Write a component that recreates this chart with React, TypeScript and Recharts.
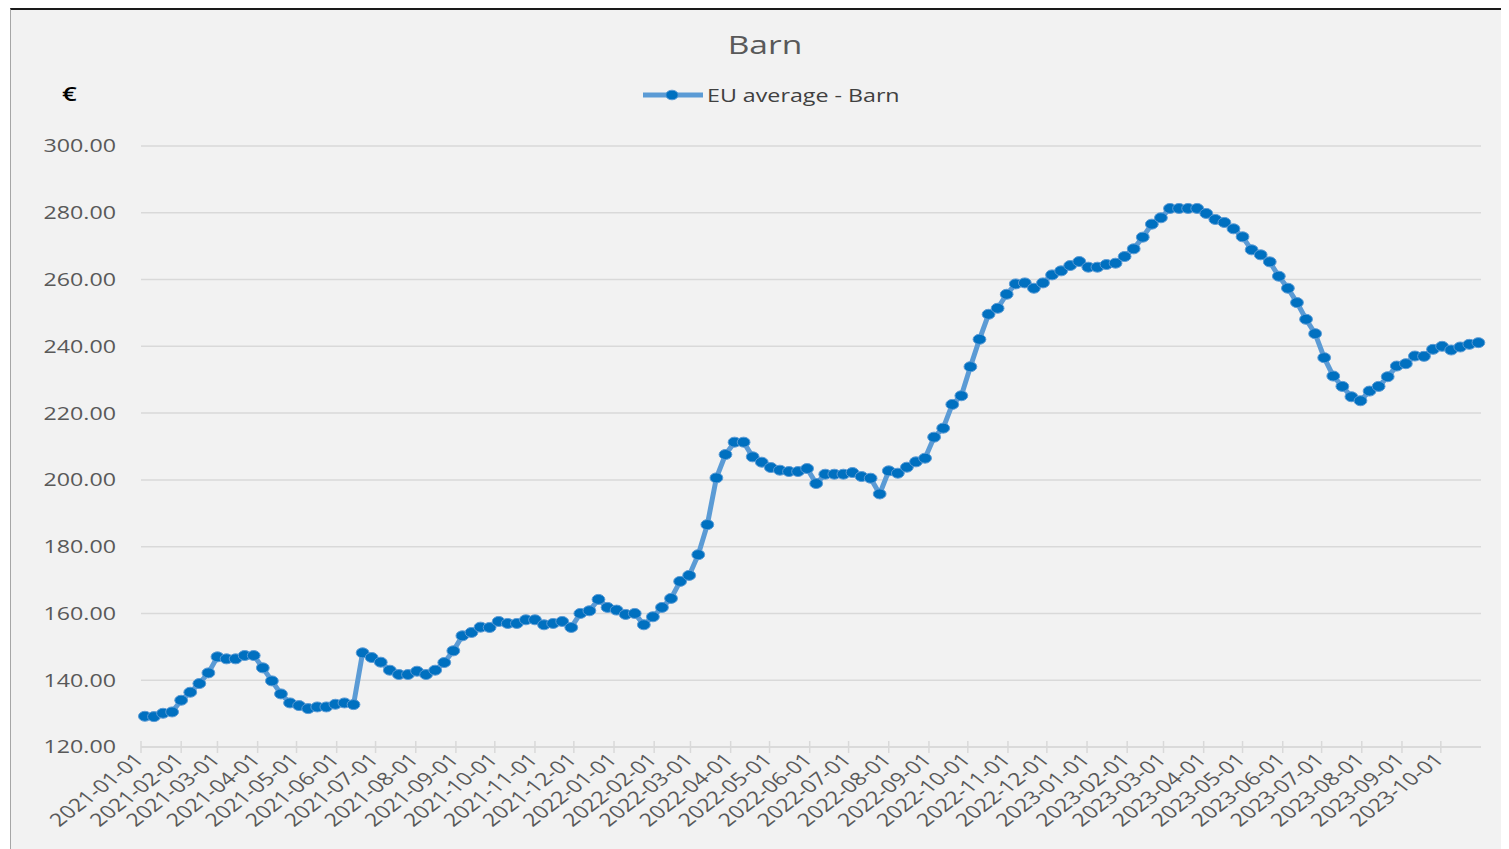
import { LineChart, Line, XAxis, YAxis, CartesianGrid } from 'recharts';

// weekly EU average price, one point per week (Mondays)
const FIRST_WEEK = '2021-01-04';
const values2021 = [
    129.2, 129.1, 130.1, 130.5, 134.0, 136.4, 139.0, 142.2, 147.0, 146.4, 146.4, 147.4, 147.4,
    143.7, 139.8, 135.9, 133.2, 132.4, 131.5, 132.0, 132.0, 132.8, 133.2, 132.7, 148.2, 146.8,
    145.4, 143.0, 141.7, 141.7, 142.7, 141.7, 143.0, 145.3, 148.8, 153.3, 154.3, 155.9, 155.8,
    157.6, 157.0, 157.0, 158.1, 158.1, 156.6, 157.0, 157.6, 155.8, 160.0, 160.8, 164.2, 161.8,
];
const values2022 = [
    161.0, 159.7, 160.0, 156.6, 159.0, 161.8, 164.5, 169.6, 171.4, 177.6, 186.6, 200.6, 207.6,
    211.3, 211.3, 206.9, 205.3, 203.7, 202.9, 202.5, 202.5, 203.4, 198.9, 201.7, 201.7, 201.7,
    202.2, 201.0, 200.5, 195.8, 202.7, 202.0, 203.8, 205.4, 206.5, 212.8, 215.5, 222.6, 225.2,
    233.9, 242.1, 249.6, 251.4, 255.6, 258.7, 259.0, 257.4, 259.0, 261.4, 262.6, 264.2, 265.4,
];
const values2023 = [
    263.7, 263.7, 264.5, 264.9, 266.9, 269.2, 272.7, 276.6, 278.5, 281.3, 281.3, 281.3, 281.3,
    279.8, 278.0, 277.1, 275.2, 272.8, 268.9, 267.4, 265.3, 261.0, 257.4, 253.1, 248.1, 243.8,
    236.6, 231.1, 228.0, 224.9, 223.7, 226.6, 228.0, 230.9, 234.1, 234.8, 237.1, 237.0, 239.1,
    240.0, 238.9, 239.8, 240.6, 241.1,
];

const monthTicks = [
    '2021-01-01', '2021-02-01', '2021-03-01', '2021-04-01', '2021-05-01', '2021-06-01',
    '2021-07-01', '2021-08-01', '2021-09-01', '2021-10-01', '2021-11-01', '2021-12-01',
    '2022-01-01', '2022-02-01', '2022-03-01', '2022-04-01', '2022-05-01', '2022-06-01',
    '2022-07-01', '2022-08-01', '2022-09-01', '2022-10-01', '2022-11-01', '2022-12-01',
    '2023-01-01', '2023-02-01', '2023-03-01', '2023-04-01', '2023-05-01', '2023-06-01',
    '2023-07-01', '2023-08-01', '2023-09-01', '2023-10-01',
];
const yTicks = [120, 140, 160, 180, 200, 220, 240, 260, 280, 300];
const AXIS_END = '2023-11-01';

const DAY = 86400000;
const toTime = (s: string) => new Date(s + 'T00:00:00Z').getTime();
const fmtDate = (t: number) => new Date(t).toISOString().slice(0, 10);

const allValues = [...values2021, ...values2022, ...values2023];
const data = allValues.map((v, i) => ({ t: toTime(FIRST_WEEK) + i * 7 * DAY, price: v }));

const STRETCH = 1.29;
const FONT = '"Open Sans", "Noto Sans", sans-serif';

function YTick(props: any) {
    const { x, y, payload } = props;
    return (
        <text transform={`translate(${x},${y}) scale(${STRETCH},1)`} textAnchor="end" dy="0.36em"
            fontSize={18} fill="#595959" fontFamily={FONT}>
            {Number(payload.value).toFixed(2)}
        </text>
    );
}

function XTick(props: any) {
    const { x, y, payload } = props;
    return (
        <g>
            <line x1={x} x2={x} y1={y - 6} y2={y + 6} stroke="#d9d9d9" strokeWidth={1.5} />
            <text transform={`translate(${x + 4},${y + 14}) scale(${STRETCH},1) rotate(-45)`} textAnchor="end"
                fontSize={18} fill="#595959" fontFamily={FONT}>
                {fmtDate(payload.value)}
            </text>
        </g>
    );
}

function Dot(props: any) {
    const { cx, cy } = props;
    if (cx == null || cy == null) return null;
    return <ellipse cx={cx} cy={cy} rx={6.4} ry={5} fill="#0070c0" stroke="#5b9bd5" strokeWidth={1} />;
}

export default function App() {
    return (
        <div style={{ position: 'relative', width: 1501, height: 841, overflow: 'hidden' }}>
            <div style={{ position: 'absolute', left: 2, top: 0, right: 0, bottom: 0, background: '#f2f2f2', borderTop: '2px solid #1a1a1a', borderLeft: '1px solid #a6a6a6' }} />
            <div style={{ position: 'absolute', left: 757, top: 18, transform: `translateX(-50%) scaleX(${STRETCH})`, fontFamily: FONT, fontSize: 26, color: '#595959', whiteSpace: 'nowrap' }}>
                Barn
            </div>
            <div style={{ position: 'absolute', left: 54, top: 72, fontFamily: FONT, fontSize: 20, fontWeight: 600, color: '#000', transform: `scaleX(${STRETCH})`, transformOrigin: 'left center' }}>
                €
            </div>
            <div style={{ position: 'absolute', left: 634, top: 76, display: 'flex', alignItems: 'center', fontFamily: FONT, height: 22 }}>
                <svg width={62} height={14}>
                    <line x1={1} x2={61} y1={7} y2={7} stroke="#5b9bd5" strokeWidth={5} />
                    <ellipse cx={30} cy={7} rx={6.2} ry={4.8} fill="#0070c0" stroke="#5b9bd5" strokeWidth={1} />
                </svg>
                <span style={{ display: 'inline-block', marginLeft: 3, fontSize: 18, color: '#404040', transform: `scaleX(${STRETCH})`, transformOrigin: 'left center', whiteSpace: 'nowrap' }}>
                    EU average - Barn
                </span>
            </div>
            <div style={{ position: 'absolute', left: 0, top: 0 }}>
                <LineChart width={1501} height={841} data={data} margin={{ top: 138, right: 28, bottom: 2, left: 0 }}>
                    <CartesianGrid horizontal vertical={false} stroke="#d9d9d9" strokeWidth={1.5} />
                    <XAxis dataKey="t" type="number" domain={[toTime(FIRST_WEEK) - 3 * DAY, toTime(AXIS_END)]}
                        ticks={monthTicks.map(toTime)} interval={0} height={100} tickSize={0} tickMargin={0}
                        axisLine={{ stroke: '#d9d9d9', strokeWidth: 1.5 }} tickLine={false} tick={<XTick />} />
                    <YAxis domain={[120, 300]} ticks={yTicks} width={133} tickSize={0} tickMargin={25}
                        axisLine={false} tickLine={false} tick={<YTick />} />
                    <Line type="linear" dataKey="price" name="EU average - Barn" stroke="#5b9bd5" strokeWidth={5}
                        dot={<Dot />} activeDot={false} isAnimationActive={false} />
                </LineChart>
            </div>
        </div>
    );
}
